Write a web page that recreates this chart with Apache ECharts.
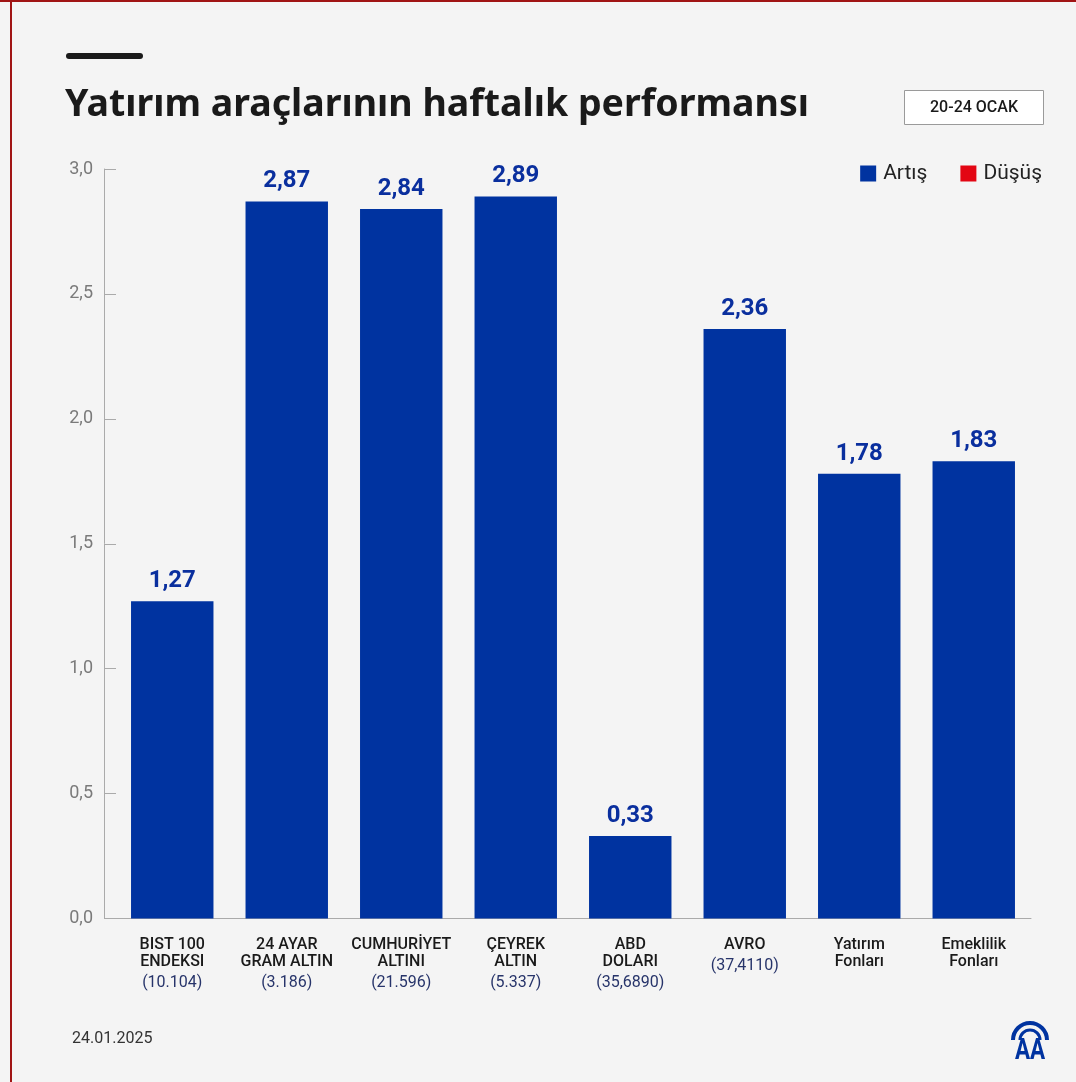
<!DOCTYPE html>
<html>
<head>
<meta charset="utf-8">
<script src="https://cdn.jsdelivr.net/npm/echarts@6/dist/echarts.min.js"></script>
<style>
  html, body { margin: 0; padding: 0; background: #f4f4f4; }
  #chart { width: 1076px; height: 1082px; }
</style>
</head>
<body>
<div id="chart"></div>
<script>
const names = ["BIST 100\nENDEKSI", "24 AYAR\nGRAM ALTIN", "CUMHURİYET\nALTINI", "ÇEYREK\nALTIN", "ABD\nDOLARI", "AVRO", "Yatırım\nFonları", "Emeklilik\nFonları"];
const prices = ["(10.104)", "(3.186)", "(21.596)", "(5.337)", "(35,6890)", "(37,4110)", "", ""];
const values = [1.27, 2.87, 2.84, 2.89, 0.33, 2.36, 1.78, 1.83];
const yTicks = [0, 0.5, 1.0, 1.5, 2.0, 2.5, 3.0];

const blue = "#0033a0";
const red = "#e30613";
const comma = v => v.toFixed(2).replace(".", ",");

const chart = echarts.init(document.getElementById("chart"));

const option = {
  backgroundColor: "#f4f4f4",
  animation: false,
  textStyle: { fontFamily: "Roboto" },
  graphic: [
    { type: "rect", shape: { x: 0, y: 0, width: 1076, height: 2 }, style: { fill: "#a01414" } },
    { type: "rect", shape: { x: 10, y: 0, width: 2, height: 1082 }, style: { fill: "#a01414" } },
    { type: "rect", shape: { x: 66, y: 53, width: 77, height: 6, r: 3 }, style: { fill: "#1a1a1a" } },
    {
      type: "text", left: 65, top: 86,
      style: { text: "Yatırım araçlarının haftalık performansı", font: "bold 37.5px 'Noto Sans'", fill: "#1a1a1a" }
    },
    {
      type: "rect", shape: { x: 904.5, y: 90.5, width: 139, height: 34 },
      style: { fill: "#ffffff", stroke: "#9a9a9a", lineWidth: 1 }
    },
    {
      type: "text", x: 974, y: 107.5,
      style: { text: "20-24 OCAK", font: "500 16px Roboto", fill: "#1a1a1a", align: "center", verticalAlign: "middle" }
    },
    { type: "line", shape: { x1: 104, y1: 918.5, x2: 116, y2: 918.5 }, style: { stroke: "#aaaaaa", lineWidth: 1 } },
    {
      type: "text", left: 72, top: 1031,
      style: { text: "24.01.2025", font: "16px Roboto", fill: "#333333" }
    },
    {
      type: "arc", shape: { cx: 1030, cy: 1040, r: 17, startAngle: Math.PI * 1.0, endAngle: Math.PI * 2.0 },
      style: { stroke: blue, lineWidth: 4, fill: null }
    },
    {
      type: "arc", shape: { cx: 1030, cy: 1040, r: 10, startAngle: Math.PI * 1.0, endAngle: Math.PI * 2.0 },
      style: { stroke: blue, lineWidth: 3, fill: null }
    },
    {
      type: "text", x: 1030, y: 1051, scaleX: 0.75,
      style: { text: "AA", font: "bold 30px Roboto", fill: blue, align: "center", verticalAlign: "middle" }
    }
  ],
  legend: {
    right: 29, top: 158,
    itemWidth: 16, itemHeight: 16, itemGap: 33,
    icon: "rect",
    textStyle: { fontSize: 21, color: "#222", fontFamily: "Roboto", padding: [0, 0, 0, 2] },
    data: ["Artış", "Düşüş"]
  },
  grid: { left: 115, right: 45, top: 169, bottom: 163.5 },
  xAxis: {
    type: "category",
    data: names,
    axisLine: { lineStyle: { color: "#aaaaaa" } },
    axisTick: { inside: true, length: 18, lineStyle: { color: "#aaaaaa" } },
    axisLabel: {
      interval: 0,
      margin: 18,
      formatter: (v, i) => "{n|" + v + "}" + (prices[i] ? "\n{p|" + prices[i] + "}" : ""),
      rich: {
        n: { fontSize: 16, fontWeight: 500, color: "#1a1a1a", lineHeight: 17, fontFamily: "Roboto", align: "center" },
        p: { fontSize: 16, color: "#27346a", lineHeight: 25, fontFamily: "Roboto", align: "center" }
      }
    }
  },
  yAxis: {
    type: "value",
    min: 0, max: 3, interval: 0.5,
    offset: 11,
    axisLine: { show: true, lineStyle: { color: "#aaaaaa" } },
    axisTick: { show: true, inside: true, length: 12, lineStyle: { color: "#aaaaaa" } },
    splitLine: { show: false },
    axisLabel: {
      margin: 11, fontSize: 18, color: "#7a7a7a", fontFamily: "Roboto",
      formatter: v => yTicks.includes(v) ? v.toFixed(1).replace(".", ",") : ""
    }
  },
  series: [
    {
      name: "Artış",
      type: "bar",
      stack: "perf",
      data: values,
      barWidth: "72%",
      itemStyle: { color: blue },
      label: {
        show: true, position: "top", distance: 8,
        formatter: p => comma(p.value),
        fontSize: 24, fontWeight: "bold", color: "#0a2f9e", fontFamily: "Roboto"
      }
    },
    {
      name: "Düşüş",
      type: "bar",
      stack: "perf",
      data: [],
      itemStyle: { color: red }
    }
  ]
};

chart.setOption(option);
</script>
</body>
</html>
